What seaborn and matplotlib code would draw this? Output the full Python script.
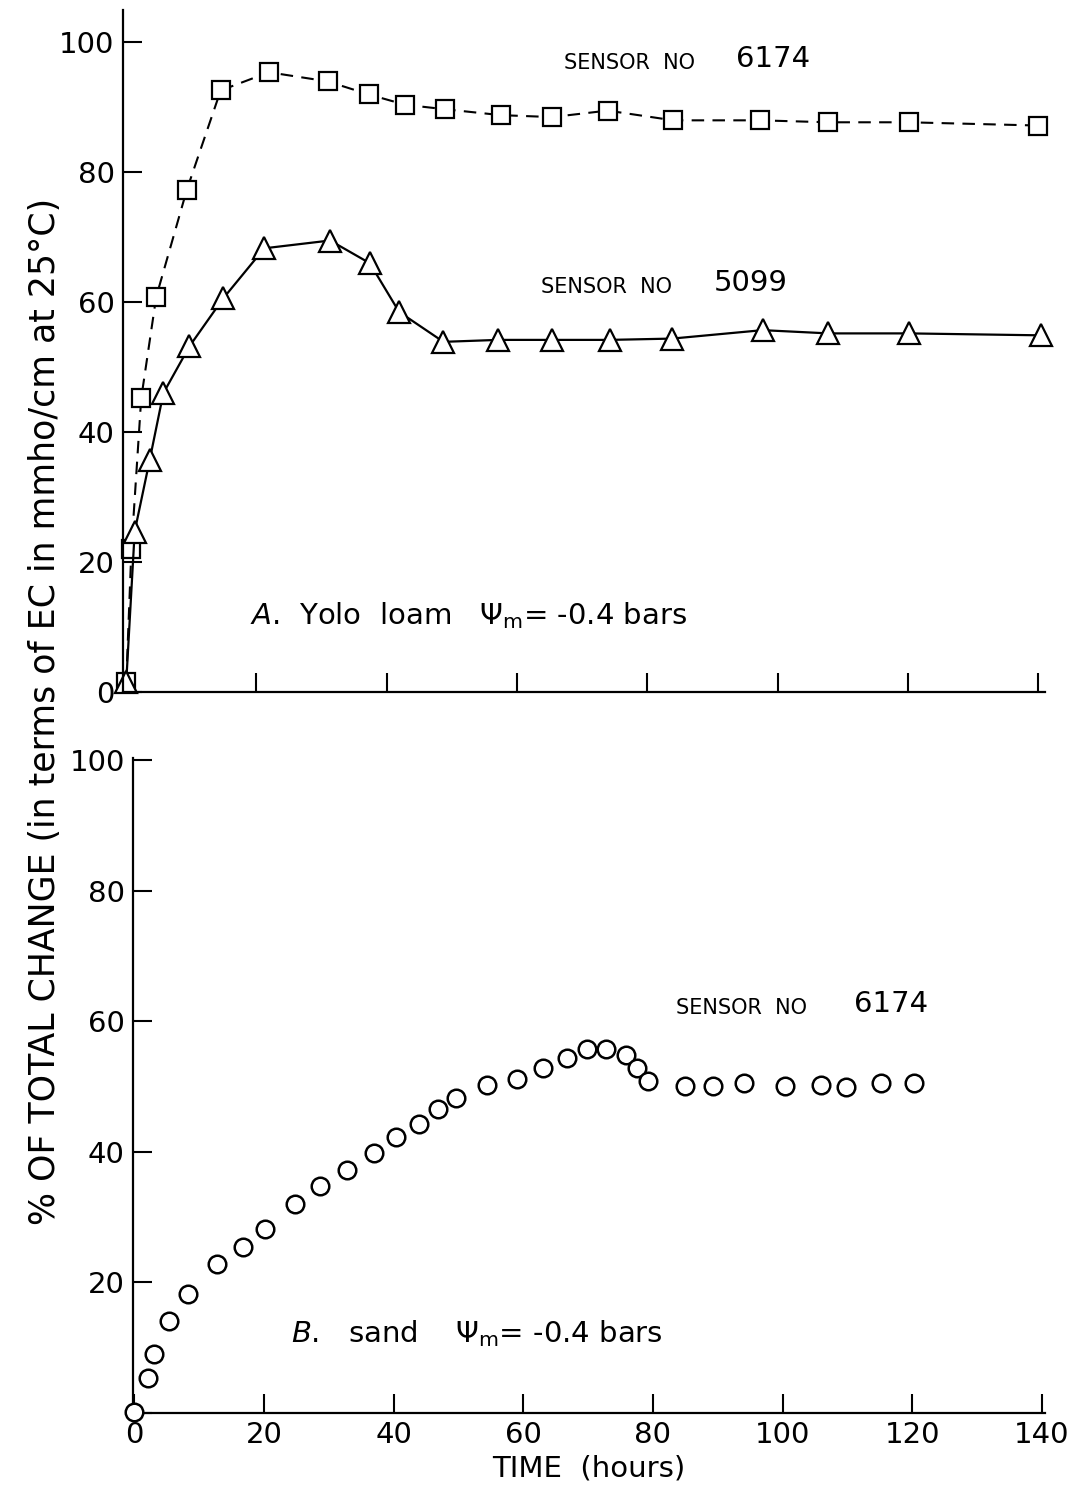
import matplotlib
matplotlib.use('Agg')
import matplotlib.pyplot as plt
import seaborn as sns

# ---- Panel A: Yolo loam ----
# Sensor 6174 (squares, dashed)
sq_hours = [0, 0.8, 2.3, 4.6, 9.3, 14.5, 21.9, 30.9, 37.2, 42.8, 49.0, 57.5, 65.4, 73.9, 84.0, 97.3, 107.8, 120.1, 140.0]
sq_pct = [1.5, 22.0, 45.2, 60.8, 77.3, 92.6, 95.4, 94.0, 92.0, 90.4, 89.7, 88.8, 88.5, 89.5, 88.0, 88.0, 87.7, 87.7, 87.2]
# Sensor 5099 (triangles, solid)
tri_hours = [0, 1.3, 3.6, 5.7, 9.7, 14.9, 21.2, 31.3, 37.4, 41.9, 48.7, 57.1, 65.4, 74.2, 83.8, 97.7, 107.8, 120.2, 140.5]
tri_pct = [1.5, 24.7, 35.7, 46.0, 53.2, 60.6, 68.3, 69.5, 66.0, 58.5, 53.9, 54.2, 54.2, 54.2, 54.4, 55.7, 55.2, 55.2, 54.9]

# ---- Panel B: sand ----
circ_hours = [0, 2.1, 3.1, 5.4, 8.3, 12.8, 16.8, 20.2, 24.8, 28.6, 32.8, 37.0, 40.3, 43.9, 46.8, 49.6,
              54.4, 59.1, 63.1, 66.7, 69.8, 72.8, 75.8, 77.5, 79.2, 85.0, 89.2, 94.0, 100.3, 105.9, 109.8, 115.2, 120.3]
circ_pct = [0.2, 5.3, 9.1, 14.1, 18.3, 22.8, 25.5, 28.2, 32.0, 34.8, 37.2, 39.8, 42.2, 44.2, 46.5, 48.2,
            50.2, 51.2, 52.8, 54.3, 55.7, 55.7, 54.8, 52.9, 50.9, 50.1, 50.1, 50.6, 50.1, 50.2, 50.0, 50.6, 50.5]

x_ticks = [0, 20, 40, 60, 80, 100, 120, 140]
y_ticks = [0, 20, 40, 60, 80, 100]

sns.set_style('ticks')
plt.rcParams['font.family'] = ['DejaVu Sans']
plt.rcParams['mathtext.fontset'] = 'dejavusans'
plt.rcParams['text.color'] = 'black'
plt.rcParams['axes.labelcolor'] = 'black'
plt.rcParams['xtick.color'] = 'black'
plt.rcParams['ytick.color'] = 'black'
plt.rcParams['axes.edgecolor'] = 'black'

fig = plt.figure(figsize=(10.73, 15.01), dpi=100)
ax1 = fig.add_axes([0.1146, 0.539, 0.859, 0.4544])
ax2 = fig.add_axes([0.124, 0.0586, 0.850, 0.4364])

sns.lineplot(x=sq_hours, y=sq_pct, ax=ax1, color='black', linestyle=(0, (6, 4)), lw=1.5,
             marker='s', markersize=13, markerfacecolor='white', markeredgecolor='black',
             markeredgewidth=1.6, sort=False, estimator=None, clip_on=False)
sns.lineplot(x=tri_hours, y=tri_pct, ax=ax1, color='black', linestyle='-', lw=1.6,
             marker='^', markersize=16, markerfacecolor='white', markeredgecolor='black',
             markeredgewidth=1.6, sort=False, estimator=None, clip_on=False)

sns.scatterplot(x=circ_hours, y=circ_pct, ax=ax2, marker='o', s=160, facecolor='white',
                edgecolor='black', linewidth=1.8, clip_on=False, zorder=5)

for ax in (ax1, ax2):
    sns.despine(ax=ax)
    ax.spines['left'].set_linewidth(1.6)
    ax.spines['bottom'].set_linewidth(1.6)
    ax.tick_params(direction='in', length=14, width=1.5, labelsize=21, pad=6,
                   colors='black', labelcolor='black')
    ax.set_yticks(y_ticks)
    ax.set_xticks(x_ticks)

ax1.set_xlim(-0.5, 141)
ax1.set_ylim(0, 105)
ax1.set_xticklabels([])
ax1.set_yticklabels([str(t) for t in y_ticks])

ax2.set_xlim(-0.2, 140.5)
ax2.set_ylim(0, 100.3)
ax2.set_xticklabels([str(t) for t in x_ticks])
ax2.set_yticklabels([''] + [str(t) for t in y_ticks[1:]])
ax2.set_xlabel('TIME  (hours)', fontsize=21, labelpad=4, color='black')

# annotations
ax1.text(67.2, 96.9, 'SENSOR  NO', fontsize=15, va='center', ha='left', color='black')
ax1.text(93.6, 97.5, '6174', fontsize=21, va='center', ha='left', color='black')
ax1.text(63.6, 62.3, 'SENSOR  NO', fontsize=15, va='center', ha='left', color='black')
ax1.text(90.2, 62.9, '5099', fontsize=21, va='center', ha='left', color='black')
ax1.text(19.0, 11.8, r'$\mathit{A}$.  Yolo  loam   $\Psi_{\mathrm{m}}$= -0.4 bars', fontsize=21,
         va='center', ha='left', color='black')

ax2.text(83.5, 62.0, 'SENSOR  NO', fontsize=15, va='center', ha='left', color='black')
ax2.text(111.0, 62.6, '6174', fontsize=21, va='center', ha='left', color='black')
ax2.text(24.1, 12.2, r'$\mathit{B}$.   sand    $\Psi_{\mathrm{m}}$= -0.4 bars', fontsize=21,
         va='center', ha='left', color='black')

fig.text(0.042, 0.526, '% OF TOTAL CHANGE (in terms of EC in mmho/cm at 25°C)',
         rotation=90, fontsize=25, va='center', ha='center', color='black')

fig.savefig('out.png', dpi=100, facecolor='white')
